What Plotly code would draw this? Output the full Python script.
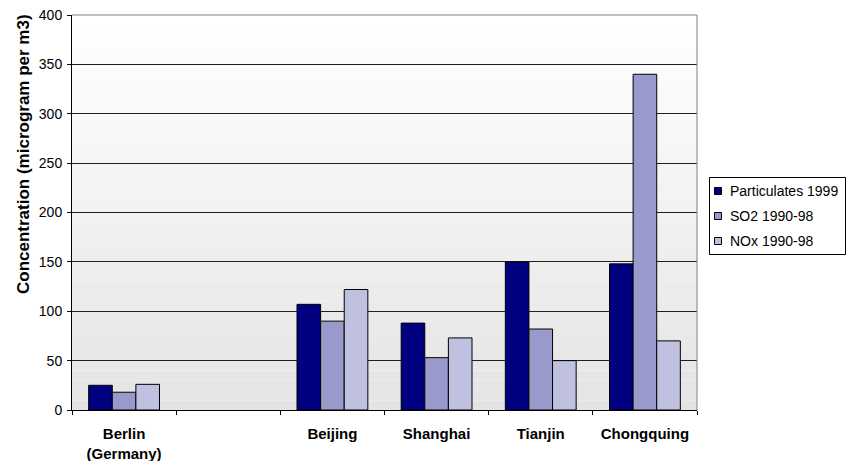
import plotly.graph_objects as go

categories = ["Berlin<br>(Germany)", " ", "Beijing", "Shanghai", "Tianjin", "Chongquing"]
data_categories = ["Berlin<br>(Germany)", "Beijing", "Shanghai", "Tianjin", "Chongquing"]
particulates = [25, 107, 88, 150, 148]
so2 = [18, 90, 53, 82, 340]
nox = [26, 122, 73, 50, 70]
series_names = ["Particulates 1999", "SO2 1990-98", "NOx 1990-98"]
series_colors = ["#000080", "#9999CC", "#C0C0E0"]
y_ticks = [0, 50, 100, 150, 200, 250, 300, 350, 400]
y_title = "Concentration (microgram per m3)"

FONT = "Liberation Sans, Arial, sans-serif"
W, H = 846, 461
ML, MR, MT, MB = 72, 149, 15, 51
PW, PH = W - ML - MR, H - MT - MB

fig = go.Figure()
for name, vals, col in zip(series_names, [particulates, so2, nox], series_colors):
    fig.add_trace(go.Bar(
        x=data_categories, y=vals, name=name, showlegend=False,
        marker=dict(color=col, line=dict(color="#000000", width=1)),
    ))

# gradient background stripes (white at top to light gray at bottom)
n = 40
shapes = []
for i in range(n):
    t = i / (n - 1)
    v = int(round(255 - (255 - 228) * (1 - t)))
    shapes.append(dict(
        type="rect", xref="paper", yref="paper",
        x0=0, x1=1, y0=i / n, y1=(i + 1) / n,
        fillcolor=f"rgb({v},{v},{v})", line=dict(width=0), layer="below",
    ))
# top and right gray border
shapes.append(dict(type="line", xref="paper", yref="paper", x0=0, x1=1, y0=1, y1=1,
                   line=dict(color="#808080", width=1)))
shapes.append(dict(type="line", xref="paper", yref="paper", x0=1, x1=1, y0=0, y1=1,
                   line=dict(color="#808080", width=1)))

def px_x(x):
    return (x - ML) / PW

def px_y(y):
    return (H - MB - y) / PH

annotations = []
# custom legend
shapes.append(dict(type="rect", xref="paper", yref="paper",
                   x0=px_x(709.5), x1=px_x(845.5), y0=px_y(254.5), y1=px_y(177.5),
                   line=dict(color="#000000", width=1), fillcolor="white"))
for k, (name, col) in enumerate(zip(series_names, series_colors)):
    cy = 191 + 25 * k
    shapes.append(dict(type="rect", xref="paper", yref="paper",
                       x0=px_x(714.5), x1=px_x(721.5), y0=px_y(cy + 3.5), y1=px_y(cy - 3.5),
                       line=dict(color="#000000", width=1), fillcolor=col))
    annotations.append(dict(xref="paper", yref="paper", x=px_x(728), y=px_y(cy),
                            xanchor="left", yanchor="middle", showarrow=False,
                            text=name, font=dict(family=FONT, size=14, color="#000000")))

# y-axis title (placed like the original, above the plot centre)
annotations.append(dict(xref="paper", yref="paper", x=px_x(23), y=px_y(154),
                        xanchor="center", yanchor="middle", showarrow=False, textangle=-90,
                        text="<b>" + y_title + "</b>",
                        font=dict(family=FONT, size=17, color="#000000")))

fig.update_layout(
    width=W, height=H,
    margin=dict(l=ML, r=MR, t=MT, b=MB, autoexpand=False),
    paper_bgcolor="white", plot_bgcolor="white",
    font=dict(family=FONT, size=12, color="#000000"),
    barmode="group", bargap=0.32, bargroupgap=0,
    shapes=shapes, annotations=annotations,
    showlegend=False,
    xaxis=dict(
        type="category", categoryorder="array", categoryarray=categories,
        range=[-0.5, 5.5], tickson="boundaries", ticks="outside", ticklen=4,
        tickcolor="#000000", showline=True, linecolor="#000000", linewidth=1,
        showgrid=False, tickfont=dict(size=15, family=FONT), ticklabelstandoff=10,
        tickvals=categories, ticktext=["<b>" + c.replace("<br>", "</b><br><b>") + "</b>" for c in categories],
    ),
    yaxis=dict(
        range=[0, 400], tickvals=y_ticks, ticks="outside", ticklen=4,
        tickcolor="#000000", showline=True, linecolor="#000000", linewidth=1,
        showgrid=True, gridcolor="#202020", gridwidth=1, zeroline=False,
        tickfont=dict(size=14, family=FONT), ticklabelstandoff=2,
    ),
)

fig.write_html("out.html")
